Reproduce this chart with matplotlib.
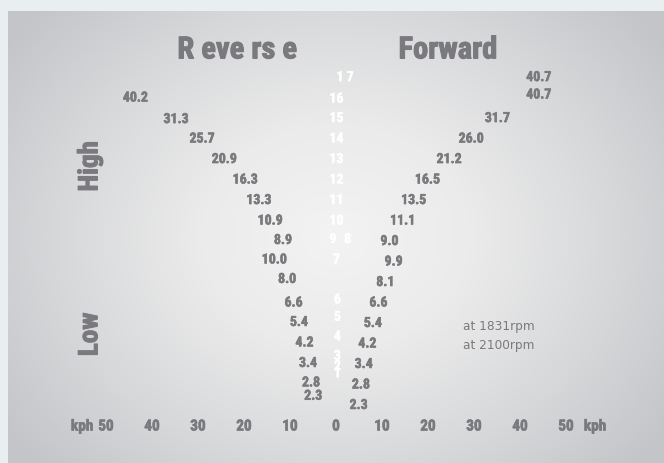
import numpy as np
import matplotlib
matplotlib.use("Agg")
import matplotlib.pyplot as plt
from matplotlib.colors import LinearSegmentedColormap
from matplotlib.transforms import offset_copy
from matplotlib import font_manager
import matplotlib.patheffects as pe

# speeds in kph, top row first
forward_kph = [40.7, 40.7, 31.7, 26.0, 21.2, 16.5, 13.5, 11.1, 9.0, 9.9, 8.1, 6.6, 5.4, 4.2, 3.4, 2.8, 2.3]
forward_row = [0, 0.85, 2, 3, 4, 5, 6, 7, 8, 9, 10, 11, 12, 13, 14, 15, 16]
reverse_kph = [40.2, 31.3, 25.7, 20.9, 16.3, 13.3, 10.9, 8.9, 10.0, 8.0, 6.6, 5.4, 4.2, 3.4, 2.8, 2.3]
reverse_row = [1, 2.05, 3, 4, 5, 6, 7, 7.95, 8.9, 9.85, 11, 11.95, 12.95, 13.95, 14.9, 15.55]

gears = ["1 7", "16", "15", "14", "13", "12", "11", "10", "9", "8", "7", "6", "5", "4", "3", "2", "1"]
gear_row = [0.05, 1.1, 2.05, 3.05, 4.05, 5.05, 6.05, 7.05, 7.95, 7.95, 8.95, 10.9, 11.75, 12.7, 13.65, 14.15, 14.5]
gear_x = [2, 0.1, 0.1, 0.1, 0.1, 0.1, 0.1, 0.1, -0.7, 2.5, 0.1, 0.3, 0.3, 0.3, 0.3, 0.3, 0.3]

ticks = [-50, -40, -30, -20, -10, 0, 10, 20, 30, 40, 50]

grey = "#7a7a7e"
names = {f.name for f in font_manager.fontManager.ttflist}
cond = [n for n in ["Roboto Condensed", "Lato", "Roboto"] if n in names] + ["DejaVu Sans"]


def heavy(w, c=grey):
    return [pe.withStroke(linewidth=w, foreground=c)]


fig = plt.figure(figsize=(6.64, 4.64), dpi=100)
fig.patch.set_facecolor("#e9eff0")

# gradient panel
bg = fig.add_axes([8 / 664, 0, 656 / 664, 452 / 464])
yy, xx = np.mgrid[0:1:200j, 0:1:300j]
d = np.sqrt(((xx - 0.5) / 0.62) ** 2 + ((yy - 0.5) / 0.75) ** 2)
cmap = LinearSegmentedColormap.from_list("bgm", ["#f3f3f3", "#ebebeb", "#d8d9db", "#c4c5c8"])
bg.imshow(d, cmap=cmap, aspect="auto", vmin=0, vmax=1.0, extent=[0, 1, 0, 1])
bg.axis("off")

ax = fig.add_axes([0, 0, 1, 1])
ax.patch.set_alpha(0)
ax.set_xlim(-73.04, 71.3)
ax.set_ylim(18.88, -3.76)
ax.axis("off")

left = offset_copy(ax.transData, fig=fig, x=-3, y=-1, units="dots")
right = offset_copy(ax.transData, fig=fig, x=3, y=-1, units="dots")

for v, r in zip(reverse_kph, reverse_row):
    ax.text(-v, r, f"{v:.1f}", transform=left, ha="right", va="center",
            fontsize=10, fontweight="bold", color=grey, family=cond,
            path_effects=heavy(0.4))
for v, r in zip(forward_kph, forward_row):
    ax.text(v, r, f"{v:.1f}", transform=right, ha="left", va="center",
            fontsize=10, fontweight="bold", color=grey, family=cond,
            path_effects=heavy(0.4))
for g, r, x in zip(gears, gear_row, gear_x):
    ax.text(x, r, g, ha="center", va="center", fontsize=10, fontweight="bold",
            color="white", family=cond, path_effects=heavy(0.3, "white"))

# kph axis
for t in ticks:
    ax.text(t, 17.1, str(abs(t)), ha="center", va="center", fontsize=11,
            fontweight="bold", color=grey, family=cond, path_effects=heavy(0.4))
ax.text(-55.2, 17.1, "kph", ha="center", va="center", fontsize=11,
        fontweight="bold", color=grey, family=cond, path_effects=heavy(0.4))
ax.text(56.3, 17.1, "kph", ha="center", va="center", fontsize=11,
        fontweight="bold", color=grey, family=cond, path_effects=heavy(0.4))

ax.text(-21.5, -1.3, "R eve rs e", ha="center", va="center", fontsize=22,
        fontweight="bold", color=grey, family=cond, path_effects=heavy(0.7))
ax.text(24.3, -1.3, "Forward", ha="center", va="center", fontsize=22,
        fontweight="bold", color=grey, family=cond, path_effects=heavy(0.7))

ax.text(-53.5, 4.4, "High", ha="center", va="center", rotation=90, fontsize=19.5,
        fontweight="bold", color=grey, family=cond, path_effects=heavy(0.7))
ax.text(-53.5, 12.6, "Low", ha="center", va="center", rotation=90, fontsize=19.5,
        fontweight="bold", color=grey, family=cond, path_effects=heavy(0.7))

ax.text(27.6, 12.15, "at 1831rpm", ha="left", va="center", fontsize=8.7, color=grey)
ax.text(27.6, 13.12, "at 2100rpm", ha="left", va="center", fontsize=8.7, color=grey)

fig.savefig("out.png", dpi=100)
